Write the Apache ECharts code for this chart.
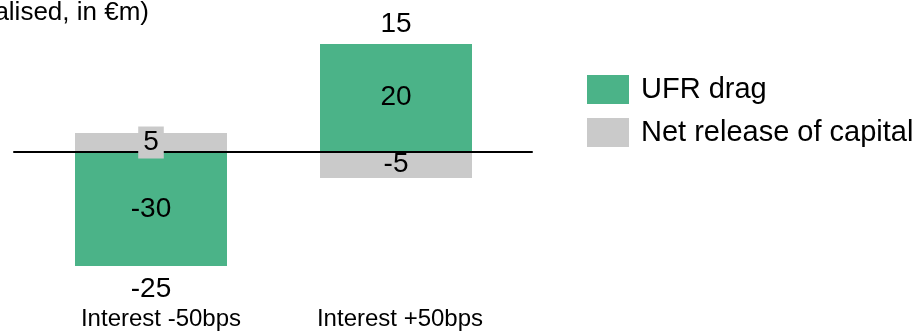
<!DOCTYPE html>
<html>
<head>
<meta charset="utf-8">
<script src="https://cdn.jsdelivr.net/npm/echarts@6/dist/echarts.min.js"></script>
<style>
  html, body { margin: 0; padding: 0; background: #fff; }
  #chart { width: 920px; height: 331px; }
</style>
</head>
<body>
<div id="chart"></div>
<script>
// values
const categories = ["Interest -50bps", "Interest +50bps"];
const ufrDrag = [-30, 20];
const netRelease = [5, -5];
const totals = [-25, 15];

const GREEN = "#4bb388";
const GREY = "#cacaca";

// each bar sits in its own grid (the source picture is not drawn to one scale)
// both grids put zero at y = 152; a third grid only carries the zero line
const grids = [
  { left: 14, width: 274, top: 133, height: 133 },
  { left: 260, width: 272, top: 44, height: 135 },
  { left: 14, width: 518, top: 142, height: 20 },
];
const labelMargin = [41, 129];
const labelShift = [20, 8];

const xAxes = [];
const yAxes = [];
const series = [];

categories.forEach((cat, i) => {
  const pos = Math.max(ufrDrag[i], 0) + Math.max(netRelease[i], 0);
  const neg = Math.min(ufrDrag[i], 0) + Math.min(netRelease[i], 0);
  xAxes.push({
    type: "category",
    gridIndex: i,
    data: [cat],
    axisLine: { show: false, onZero: false },
    axisTick: { show: false },
    axisLabel: {
      fontSize: 24,
      color: "#000",
      margin: labelMargin[i],
      padding: [0, 0, 0, labelShift[i]],
    },
  });
  yAxes.push({
    type: "value",
    gridIndex: i,
    min: neg,
    max: pos,
    show: false,
    splitLine: { show: false },
  });
  series.push(
    {
      name: "UFR drag",
      type: "bar",
      xAxisIndex: i,
      yAxisIndex: i,
      stack: "s" + i,
      barWidth: 152,
      data: [ufrDrag[i]],
      itemStyle: { color: GREEN },
      label: { show: true, position: "inside", fontSize: 28, color: "#000" },
    },
    {
      name: "Net release of capital",
      type: "bar",
      xAxisIndex: i,
      yAxisIndex: i,
      stack: "s" + i,
      barWidth: 152,
      data: [netRelease[i]],
      itemStyle: { color: GREY },
      label: { show: false },
    },
    {
      // labels of the grey segments, kept above the zero line
      type: "scatter",
      xAxisIndex: i,
      yAxisIndex: i,
      symbolSize: 0,
      z: 10,
      silent: true,
      itemStyle: { opacity: 1 },
      data: [{
        value: netRelease[i] / 2,
        label: netRelease[i] > 0 ? { backgroundColor: GREY, padding: [2, 5] } : {},
      }],
      label: {
        show: true,
        position: "inside",
        fontSize: 28,
        color: "#000",
        formatter: () => String(netRelease[i]),
      },
    },
    {
      // totals outside the bar end
      type: "scatter",
      xAxisIndex: i,
      yAxisIndex: i,
      symbolSize: 0,
      silent: true,
      itemStyle: { opacity: 1 },
      data: [totals[i] < 0 ? neg : pos],
      label: {
        show: true,
        position: totals[i] < 0 ? "bottom" : "top",
        distance: totals[i] < 0 ? 9 : 6,
        fontSize: 28,
        color: "#000",
        formatter: () => String(totals[i]),
      },
    }
  );
});

// zero line across both bars
xAxes.push({
  type: "category",
  gridIndex: 2,
  data: [""],
  z: 5,
  axisLine: { show: true, onZero: true, lineStyle: { color: "#000", width: 2 } },
  axisTick: { show: false },
  axisLabel: { show: false },
});
yAxes.push({ type: "value", gridIndex: 2, min: -1, max: 1, show: false });

const chart = echarts.init(document.getElementById("chart"));
chart.setOption({
  animation: false,
  textStyle: { fontFamily: "Liberation Sans, Arial, sans-serif" },
  title: {
    text: "(normalised, in €m)",
    right: 771,
    top: 0,
    padding: 0,
    textStyle: { fontSize: 26, fontWeight: "normal", color: "#000" },
  },
  legend: {
    data: ["UFR drag", "Net release of capital"],
    orient: "vertical",
    left: 587,
    top: 75,
    padding: 0,
    icon: "rect",
    itemWidth: 42,
    itemHeight: 29,
    itemGap: 14,
    textStyle: { fontSize: 29, color: "#000", padding: [0, 0, 0, 7] },
  },
  grid: grids,
  xAxis: xAxes,
  yAxis: yAxes,
  series: series,
});
</script>
</body>
</html>
